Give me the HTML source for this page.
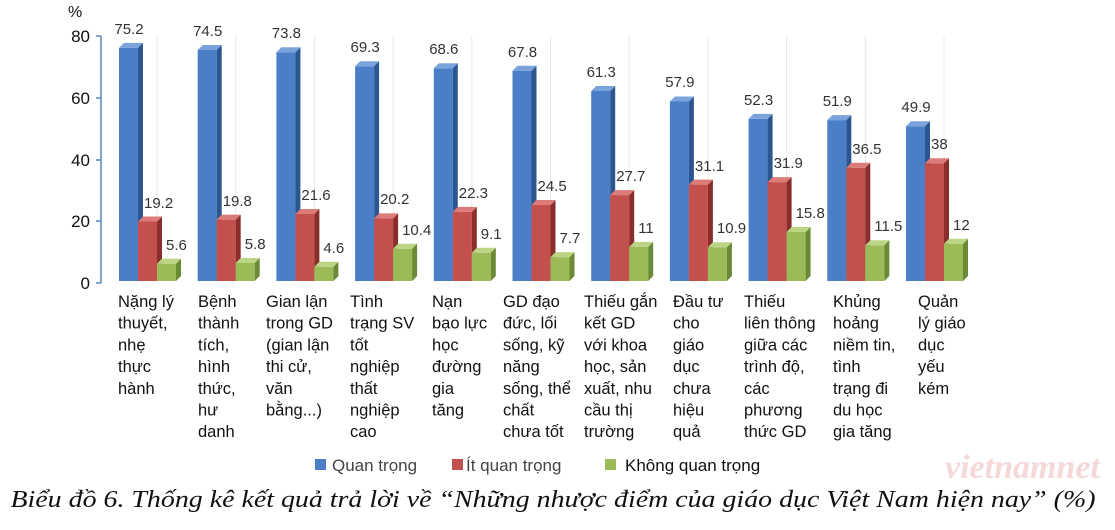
<!DOCTYPE html>
<html><head><meta charset="utf-8"><style>
body{margin:0;background:#fff}
svg{display:block;font-family:"Liberation Sans",Arial,sans-serif}
.bf{fill:#4a7ec7}.bs{fill:#2c5690}.bt{fill:#7aa3dc}
.rf{fill:#c4504d}.rs{fill:#8a2e2c}.rt{fill:#dc7b78}
.gf{fill:#9bbb59}.gs{fill:#6b8a35}.gt{fill:#bcd585}
.v{font-size:15px;fill:#333}
.c{font-size:16.5px;fill:#111}
</style></head><body>
<svg width="1115" height="530" viewBox="0 0 1115 530">
<g stroke="#e8e8e8" stroke-width="1">
<line x1="157" y1="36" x2="157" y2="281"/><line x1="235.7" y1="36" x2="235.7" y2="281"/><line x1="314.4" y1="36" x2="314.4" y2="281"/><line x1="393.1" y1="36" x2="393.1" y2="281"/><line x1="471.8" y1="36" x2="471.8" y2="281"/><line x1="550.5" y1="36" x2="550.5" y2="281"/><line x1="629.2" y1="36" x2="629.2" y2="281"/><line x1="707.9" y1="36" x2="707.9" y2="281"/><line x1="786.6" y1="36" x2="786.6" y2="281"/><line x1="865.3" y1="36" x2="865.3" y2="281"/><line x1="944" y1="36" x2="944" y2="281"/>
</g>
<g stroke="#5a86bf" stroke-width="1.5">
<line x1="101" y1="36" x2="101" y2="283"/>
<line x1="96" y1="36" x2="101" y2="36"/><line x1="96" y1="98" x2="101" y2="98"/><line x1="96" y1="160" x2="101" y2="160"/><line x1="96" y1="221" x2="101" y2="221"/><line x1="96" y1="283" x2="101" y2="283"/>
</g>
<g font-size="17" fill="#111" text-anchor="end">
<text x="90" y="42">80</text><text x="90" y="104">60</text><text x="90" y="166">40</text><text x="90" y="227">20</text><text x="90" y="289">0</text>
</g>
<text x="68" y="17" font-size="16" fill="#111">%</text>

<g transform="translate(119,47.9)"><path class="bf" d="M0 0h19v233.1H0z"/><path class="bs" d="M19 0l5-5v233.1l-5 5z"/><path class="bt" d="M0 0l5-5h19l-5 5z"/></g>
<g transform="translate(197.7,50)"><path class="bf" d="M0 0h19v231H0z"/><path class="bs" d="M19 0l5-5v231l-5 5z"/><path class="bt" d="M0 0l5-5h19l-5 5z"/></g>
<g transform="translate(276.4,52.2)"><path class="bf" d="M0 0h19v228.8H0z"/><path class="bs" d="M19 0l5-5v228.8l-5 5z"/><path class="bt" d="M0 0l5-5h19l-5 5z"/></g>
<g transform="translate(355.1,66.2)"><path class="bf" d="M0 0h19v214.8H0z"/><path class="bs" d="M19 0l5-5v214.8l-5 5z"/><path class="bt" d="M0 0l5-5h19l-5 5z"/></g>
<g transform="translate(433.8,68.3)"><path class="bf" d="M0 0h19v212.7H0z"/><path class="bs" d="M19 0l5-5v212.7l-5 5z"/><path class="bt" d="M0 0l5-5h19l-5 5z"/></g>
<g transform="translate(512.5,70.8)"><path class="bf" d="M0 0h19v210.2H0z"/><path class="bs" d="M19 0l5-5v210.2l-5 5z"/><path class="bt" d="M0 0l5-5h19l-5 5z"/></g>
<g transform="translate(591.2,91)"><path class="bf" d="M0 0h19v190H0z"/><path class="bs" d="M19 0l5-5v190l-5 5z"/><path class="bt" d="M0 0l5-5h19l-5 5z"/></g>
<g transform="translate(669.9,101.5)"><path class="bf" d="M0 0h19v179.5H0z"/><path class="bs" d="M19 0l5-5v179.5l-5 5z"/><path class="bt" d="M0 0l5-5h19l-5 5z"/></g>
<g transform="translate(748.6,118.9)"><path class="bf" d="M0 0h19v162.1H0z"/><path class="bs" d="M19 0l5-5v162.1l-5 5z"/><path class="bt" d="M0 0l5-5h19l-5 5z"/></g>
<g transform="translate(827.3,120.1)"><path class="bf" d="M0 0h19v160.9H0z"/><path class="bs" d="M19 0l5-5v160.9l-5 5z"/><path class="bt" d="M0 0l5-5h19l-5 5z"/></g>
<g transform="translate(906,126.3)"><path class="bf" d="M0 0h19v154.7H0z"/><path class="bs" d="M19 0l5-5v154.7l-5 5z"/><path class="bt" d="M0 0l5-5h19l-5 5z"/></g>

<g transform="translate(138,221.5)"><path class="rf" d="M0 0h19v59.5H0z"/><path class="rs" d="M19 0l5-5v59.5l-5 5z"/><path class="rt" d="M0 0l5-5h19l-5 5z"/></g>
<g transform="translate(216.7,219.6)"><path class="rf" d="M0 0h19v61.4H0z"/><path class="rs" d="M19 0l5-5v61.4l-5 5z"/><path class="rt" d="M0 0l5-5h19l-5 5z"/></g>
<g transform="translate(295.4,214)"><path class="rf" d="M0 0h19v67H0z"/><path class="rs" d="M19 0l5-5v67l-5 5z"/><path class="rt" d="M0 0l5-5h19l-5 5z"/></g>
<g transform="translate(374.1,218.4)"><path class="rf" d="M0 0h19v62.6H0z"/><path class="rs" d="M19 0l5-5v62.6l-5 5z"/><path class="rt" d="M0 0l5-5h19l-5 5z"/></g>
<g transform="translate(452.8,211.9)"><path class="rf" d="M0 0h19v69.1H0z"/><path class="rs" d="M19 0l5-5v69.1l-5 5z"/><path class="rt" d="M0 0l5-5h19l-5 5z"/></g>
<g transform="translate(531.5,205)"><path class="rf" d="M0 0h19v76H0z"/><path class="rs" d="M19 0l5-5v76l-5 5z"/><path class="rt" d="M0 0l5-5h19l-5 5z"/></g>
<g transform="translate(610.2,195.1)"><path class="rf" d="M0 0h19v85.9H0z"/><path class="rs" d="M19 0l5-5v85.9l-5 5z"/><path class="rt" d="M0 0l5-5h19l-5 5z"/></g>
<g transform="translate(688.9,184.6)"><path class="rf" d="M0 0h19v96.4H0z"/><path class="rs" d="M19 0l5-5v96.4l-5 5z"/><path class="rt" d="M0 0l5-5h19l-5 5z"/></g>
<g transform="translate(767.6,182.1)"><path class="rf" d="M0 0h19v98.9H0z"/><path class="rs" d="M19 0l5-5v98.9l-5 5z"/><path class="rt" d="M0 0l5-5h19l-5 5z"/></g>
<g transform="translate(846.3,167.8)"><path class="rf" d="M0 0h19v113.2H0z"/><path class="rs" d="M19 0l5-5v113.2l-5 5z"/><path class="rt" d="M0 0l5-5h19l-5 5z"/></g>
<g transform="translate(925,163.2)"><path class="rf" d="M0 0h19v117.8H0z"/><path class="rs" d="M19 0l5-5v117.8l-5 5z"/><path class="rt" d="M0 0l5-5h19l-5 5z"/></g>

<g transform="translate(157,263.6)"><path class="gf" d="M0 0h19v17.4H0z"/><path class="gs" d="M19 0l5-5v17.4l-5 5z"/><path class="gt" d="M0 0l5-5h19l-5 5z"/></g>
<g transform="translate(235.7,263)"><path class="gf" d="M0 0h19v18H0z"/><path class="gs" d="M19 0l5-5v18l-5 5z"/><path class="gt" d="M0 0l5-5h19l-5 5z"/></g>
<g transform="translate(314.4,266.7)"><path class="gf" d="M0 0h19v14.3H0z"/><path class="gs" d="M19 0l5-5v14.3l-5 5z"/><path class="gt" d="M0 0l5-5h19l-5 5z"/></g>
<g transform="translate(393.1,248.8)"><path class="gf" d="M0 0h19v32.2H0z"/><path class="gs" d="M19 0l5-5v32.2l-5 5z"/><path class="gt" d="M0 0l5-5h19l-5 5z"/></g>
<g transform="translate(471.8,252.8)"><path class="gf" d="M0 0h19v28.2H0z"/><path class="gs" d="M19 0l5-5v28.2l-5 5z"/><path class="gt" d="M0 0l5-5h19l-5 5z"/></g>
<g transform="translate(550.5,257.1)"><path class="gf" d="M0 0h19v23.9H0z"/><path class="gs" d="M19 0l5-5v23.9l-5 5z"/><path class="gt" d="M0 0l5-5h19l-5 5z"/></g>
<g transform="translate(629.2,246.9)"><path class="gf" d="M0 0h19v34.1H0z"/><path class="gs" d="M19 0l5-5v34.1l-5 5z"/><path class="gt" d="M0 0l5-5h19l-5 5z"/></g>
<g transform="translate(707.9,247.2)"><path class="gf" d="M0 0h19v33.8H0z"/><path class="gs" d="M19 0l5-5v33.8l-5 5z"/><path class="gt" d="M0 0l5-5h19l-5 5z"/></g>
<g transform="translate(786.6,232)"><path class="gf" d="M0 0h19v49H0z"/><path class="gs" d="M19 0l5-5v49l-5 5z"/><path class="gt" d="M0 0l5-5h19l-5 5z"/></g>
<g transform="translate(865.3,245.3)"><path class="gf" d="M0 0h19v35.7H0z"/><path class="gs" d="M19 0l5-5v35.7l-5 5z"/><path class="gt" d="M0 0l5-5h19l-5 5z"/></g>
<g transform="translate(944,243.8)"><path class="gf" d="M0 0h19v37.2H0z"/><path class="gs" d="M19 0l5-5v37.2l-5 5z"/><path class="gt" d="M0 0l5-5h19l-5 5z"/></g>

<g class="v" text-anchor="middle">
<text x="129" y="34">75.2</text><text x="207.7" y="36">74.5</text><text x="286.4" y="38">73.8</text><text x="365.1" y="52">69.3</text><text x="443.8" y="54">68.6</text><text x="522.5" y="57">67.8</text><text x="601.2" y="77">61.3</text><text x="679.9" y="87">57.9</text><text x="758.6" y="105">52.3</text><text x="837.3" y="106">51.9</text><text x="916" y="112">49.9</text>
</g>
<g class="v">
<text x="144" y="208">19.2</text><text x="222.7" y="206">19.8</text><text x="301.4" y="200">21.6</text><text x="380.1" y="204">20.2</text><text x="458.8" y="198">22.3</text><text x="537.5" y="191">24.5</text><text x="616.2" y="181">27.7</text><text x="694.9" y="171">31.1</text><text x="773.6" y="168">31.9</text><text x="852.3" y="154">36.5</text><text x="931" y="149">38</text>
<text x="166" y="250">5.6</text><text x="244.7" y="249">5.8</text><text x="323.4" y="253">4.6</text><text x="402.1" y="235">10.4</text><text x="480.8" y="239">9.1</text><text x="559.5" y="243">7.7</text><text x="638.2" y="233">11</text><text x="716.9" y="233">10.9</text><text x="795.6" y="218">15.8</text><text x="874.3" y="231">11.5</text><text x="953" y="230">12</text>
</g>

<g class="c">
<text x="118" y="307">Nặng lý<tspan x="118" dy="21.7">thuyết,</tspan><tspan x="118" dy="21.7">nhẹ</tspan><tspan x="118" dy="21.7">thực</tspan><tspan x="118" dy="21.7">hành</tspan></text>
<text x="198" y="307">Bệnh<tspan x="198" dy="21.7">thành</tspan><tspan x="198" dy="21.7">tích,</tspan><tspan x="198" dy="21.7">hình</tspan><tspan x="198" dy="21.7">thức,</tspan><tspan x="198" dy="21.7">hư</tspan><tspan x="198" dy="21.7">danh</tspan></text>
<text x="266" y="307">Gian lận<tspan x="266" dy="21.7">trong GD</tspan><tspan x="266" dy="21.7">(gian lận</tspan><tspan x="266" dy="21.7">thi cử,</tspan><tspan x="266" dy="21.7">văn</tspan><tspan x="266" dy="21.7">bằng...)</tspan></text>
<text x="350" y="307">Tình<tspan x="350" dy="21.7">trạng SV</tspan><tspan x="350" dy="21.7">tốt</tspan><tspan x="350" dy="21.7">nghiệp</tspan><tspan x="350" dy="21.7">thất</tspan><tspan x="350" dy="21.7">nghiệp</tspan><tspan x="350" dy="21.7">cao</tspan></text>
<text x="432" y="307">Nạn<tspan x="432" dy="21.7">bạo lực</tspan><tspan x="432" dy="21.7">học</tspan><tspan x="432" dy="21.7">đường</tspan><tspan x="432" dy="21.7">gia</tspan><tspan x="432" dy="21.7">tăng</tspan></text>
<text x="503" y="307">GD đạo<tspan x="503" dy="21.7">đức, lối</tspan><tspan x="503" dy="21.7">sống, kỹ</tspan><tspan x="503" dy="21.7">năng</tspan><tspan x="503" dy="21.7">sống, thể</tspan><tspan x="503" dy="21.7">chất</tspan><tspan x="503" dy="21.7">chưa tốt</tspan></text>
<text x="584" y="307">Thiếu gắn<tspan x="584" dy="21.7">kết GD</tspan><tspan x="584" dy="21.7">với khoa</tspan><tspan x="584" dy="21.7">học, sản</tspan><tspan x="584" dy="21.7">xuất, nhu</tspan><tspan x="584" dy="21.7">cầu thị</tspan><tspan x="584" dy="21.7">trường</tspan></text>
<text x="673" y="307">Đầu tư<tspan x="673" dy="21.7">cho</tspan><tspan x="673" dy="21.7">giáo</tspan><tspan x="673" dy="21.7">dục</tspan><tspan x="673" dy="21.7">chưa</tspan><tspan x="673" dy="21.7">hiệu</tspan><tspan x="673" dy="21.7">quả</tspan></text>
<text x="744" y="307">Thiếu<tspan x="744" dy="21.7">liên thông</tspan><tspan x="744" dy="21.7">giữa các</tspan><tspan x="744" dy="21.7">trình độ,</tspan><tspan x="744" dy="21.7">các</tspan><tspan x="744" dy="21.7">phương</tspan><tspan x="744" dy="21.7">thức GD</tspan></text>
<text x="833" y="307">Khủng<tspan x="833" dy="21.7">hoảng</tspan><tspan x="833" dy="21.7">niềm tin,</tspan><tspan x="833" dy="21.7">tình</tspan><tspan x="833" dy="21.7">trạng đi</tspan><tspan x="833" dy="21.7">du học</tspan><tspan x="833" dy="21.7">gia tăng</tspan></text>
<text x="918" y="307">Quản<tspan x="918" dy="21.7">lý giáo</tspan><tspan x="918" dy="21.7">dục</tspan><tspan x="918" dy="21.7">yếu</tspan><tspan x="918" dy="21.7">kém</tspan></text>
</g>

<text x="945" y="478" font-size="34" fill="#f7d8d8" font-style="italic" font-weight="bold" font-family="'Liberation Serif',serif">vietnamnet</text>

<rect x="315" y="459" width="11" height="11" fill="#4a7ec7"/>
<text x="332" y="471" font-size="17" fill="#444">Quan trọng</text>
<rect x="452" y="459" width="11" height="11" fill="#c4504d"/>
<text x="466" y="471" font-size="17" fill="#444">Ít quan trọng</text>
<rect x="605" y="459" width="11" height="11" fill="#9bbb59"/>
<text x="625" y="471" font-size="17" fill="#111">Không quan trọng</text>

<text x="553" y="507" text-anchor="middle" font-size="24" font-style="italic" fill="#111" font-family="'Liberation Serif','Noto Serif CJK SC',serif" textLength="1085" lengthAdjust="spacingAndGlyphs">Biểu đồ 6. Thống kê kết quả trả lời về “Những nhược điểm của giáo dục Việt Nam hiện nay” (%)</text>
</svg>
</body></html>
